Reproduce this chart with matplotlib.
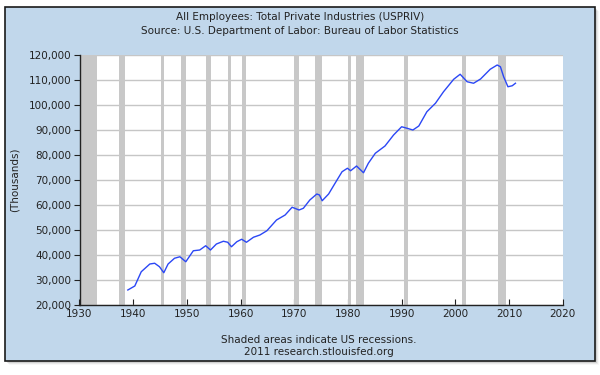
import matplotlib
matplotlib.use("Agg")
import matplotlib.pyplot as plt
from matplotlib.patches import Rectangle

# Data (year, thousands of employees)
years = [1939.0, 1940.3, 1941.5, 1943.1, 1944.0, 1944.9, 1945.7, 1946.5, 1947.7,
         1948.7, 1949.8, 1951.2, 1952.4, 1953.5, 1954.4, 1955.5, 1956.8, 1957.6,
         1958.3, 1959.3, 1960.2, 1961.1, 1962.4, 1963.6, 1964.9, 1966.7, 1968.3,
         1969.6, 1970.9, 1971.7, 1972.9, 1974.2, 1974.7, 1975.2, 1976.4, 1977.6,
         1978.9, 1979.9, 1980.5, 1981.6, 1982.9, 1983.8, 1985.1, 1986.9, 1988.5,
         1990.0, 1991.0, 1992.1, 1993.2, 1994.7, 1996.3, 1997.8, 1999.7, 2000.9,
         2002.2, 2003.4, 2004.7, 2006.5, 2007.8, 2008.4, 2009.0, 2009.8, 2010.6,
         2011.2]
employees = [26000, 27600, 33300, 36400, 36700, 35300, 32900, 36400, 38700,
             39300, 37300, 41700, 42000, 43700, 42000, 44400, 45500, 45100,
             43300, 45300, 46300, 45100, 47100, 48000, 49700, 54000, 56000,
             59100, 58000, 58700, 62000, 64400, 64000, 61700, 64400, 68700,
             73300, 74700, 73700, 75600, 72900, 76700, 80700, 83600, 88000,
             91300, 90700, 90000, 91600, 97300, 100700, 105300, 110300, 112300,
             109300, 108700, 110400, 114300, 116000, 115300, 111300, 107300, 107700,
             108700]

recession_start = [1929.6, 1937.4, 1945.1, 1948.9, 1953.5, 1957.6, 1960.3, 1969.9,
                   1973.9, 1980.0, 1981.5, 1990.5, 2001.2, 2007.9]
recession_end = [1933.2, 1938.5, 1945.8, 1949.8, 1954.4, 1958.3, 1961.1, 1970.9,
                 1975.2, 1980.5, 1982.9, 1991.2, 2001.9, 2009.5]

xticks = [1930, 1940, 1950, 1960, 1970, 1980, 1990, 2000, 2010, 2020]
yticks = [20000, 30000, 40000, 50000, 60000, 70000, 80000, 90000, 100000, 110000, 120000]

W, H = 600, 375
fig = plt.figure(figsize=(6, 3.75), dpi=100)
fig.patch.set_facecolor("white")

def fx(px):
    return px / W

def fy(py):
    return 1 - py / H

# shadow
for i, a in enumerate([0.10, 0.06, 0.03]):
    fig.patches.append(Rectangle((fx(5 + 2 + i), fy(361 + 2 + i)), fx(590), 354 / H,
                                 transform=fig.transFigure, facecolor="black",
                                 alpha=a, edgecolor="none", zorder=0))
# blue panel
fig.patches.append(Rectangle((fx(5), fy(361)), fx(590), 354 / H,
                             transform=fig.transFigure, facecolor="#c1d7eb",
                             edgecolor="#1a1a1a", linewidth=1.2, zorder=1))

left, right, top, bottom = 79.5, 562.7, 55, 305
ax = fig.add_axes([fx(left), fy(bottom), fx(right - left), (bottom - top) / H])
ax.set_zorder(2)
ax.set_facecolor("white")
ax.set_xlim(1930, 2020)
ax.set_ylim(20000, 120000)

for s, e in zip(recession_start, recession_end):
    ax.axvspan(max(s, 1930), e, color="#c8c8c8", lw=0, zorder=1)

ax.set_yticks(yticks)
ax.set_yticklabels([f"{v:,}" for v in yticks])
ax.set_xticks(xticks)
ax.grid(axis="y", color="#c6c6c6", lw=1.0, zorder=0.5)
ax.set_axisbelow(True)

ax.plot(years, employees, color="#2b47f5", lw=1.0, zorder=3)

for sp in ["top", "right"]:
    ax.spines[sp].set_visible(False)
for sp in ["left", "bottom"]:
    ax.spines[sp].set_color("#222222")
    ax.spines[sp].set_linewidth(1.0)
ax.tick_params(axis="y", direction="out", length=4, width=0.8, labelsize=7.5,
               colors="#222222", pad=2)
ax.tick_params(axis="x", direction="in", length=4, width=0.8, labelsize=7.5,
               colors="#222222", pad=3)

fig.text(0.5, fy(17), "All Employees: Total Private Industries (USPRIV)",
         ha="center", va="center", fontsize=7.5, color="#222222")
fig.text(0.5, fy(31), "Source: U.S. Department of Labor: Bureau of Labor Statistics",
         ha="center", va="center", fontsize=7.5, color="#222222")
fig.text(fx(15), fy(180), "(Thousands)", rotation=90, ha="center", va="center",
         fontsize=7.5, color="#222222")
fig.text(fx(319), fy(340), "Shaded areas indicate US recessions.",
         ha="center", va="center", fontsize=7.5, color="#222222")
fig.text(fx(319), fy(352), "2011 research.stlouisfed.org",
         ha="center", va="center", fontsize=7.5, color="#222222")

fig.savefig("out.png", dpi=100, facecolor=fig.get_facecolor())
